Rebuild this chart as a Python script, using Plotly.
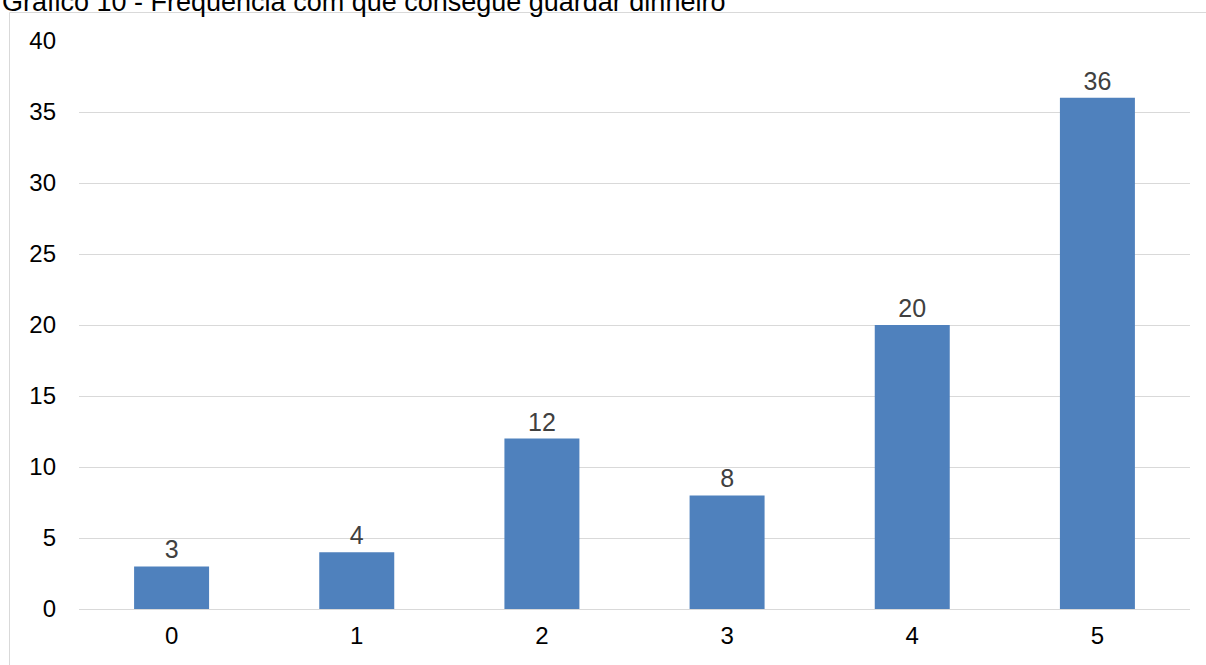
import plotly.graph_objects as go

categories = ["0", "1", "2", "3", "4", "5"]
values = [3, 4, 12, 8, 20, 36]
y_ticks = [0, 5, 10, 15, 20, 25, 30, 35, 40]
title_text = "Gráfico 10 - Frequência com que consegue guardar dinheiro"

W, H = 1206, 665
L, R, T, B = 79, 16, 41, 56
pw, ph = W - L - R, H - T - B
FONT = "Liberation Sans, Arial"


def px_x(x):
    return (x - L) / pw


def px_y(y):
    return 1 + (T - y) / ph


fig = go.Figure(
    go.Bar(
        x=categories,
        y=values,
        marker=dict(color="#4f81bd", line=dict(width=0)),
        text=[str(v) for v in values],
        textposition="outside",
        textfont=dict(family=FONT, size=25, color="#404040"),
        cliponaxis=False,
    )
)

fig.update_layout(
    width=W,
    height=H,
    margin=dict(l=L, r=R, t=T, b=B),
    paper_bgcolor="white",
    plot_bgcolor="white",
    bargap=0.595,
    showlegend=False,
    font=dict(family=FONT, size=24, color="#000000"),
    xaxis=dict(
        type="category",
        showgrid=False,
        showline=True,
        linecolor="#d9d9d9",
        linewidth=1,
        ticks="",
        tickfont=dict(size=24, color="#000000"),
        ticklabelstandoff=5,
        zeroline=False,
    ),
    yaxis=dict(
        range=[0, 40],
        tickvals=y_ticks,
        showgrid=True,
        gridcolor="#d9d9d9",
        gridwidth=1,
        showline=False,
        zeroline=False,
        ticks="",
        tickfont=dict(size=24, color="#000000"),
        ticklabelstandoff=22,
    ),
    shapes=[
        dict(
            type="path",
            xref="paper",
            yref="paper",
            path=f"M {px_x(9.5)},{px_y(700)} L {px_x(9.5)},{px_y(12.5)} L {px_x(1300)},{px_y(12.5)}",
            line=dict(color="#d9d9d9", width=1),
            layer="below",
        )
    ],
    annotations=[
        dict(
            text=title_text,
            xref="paper",
            yref="paper",
            x=px_x(0),
            y=px_y(2.3),
            xanchor="left",
            yanchor="middle",
            showarrow=False,
            font=dict(family=FONT, size=27, color="#000000"),
        )
    ],
)

fig.write_html("out.html")
